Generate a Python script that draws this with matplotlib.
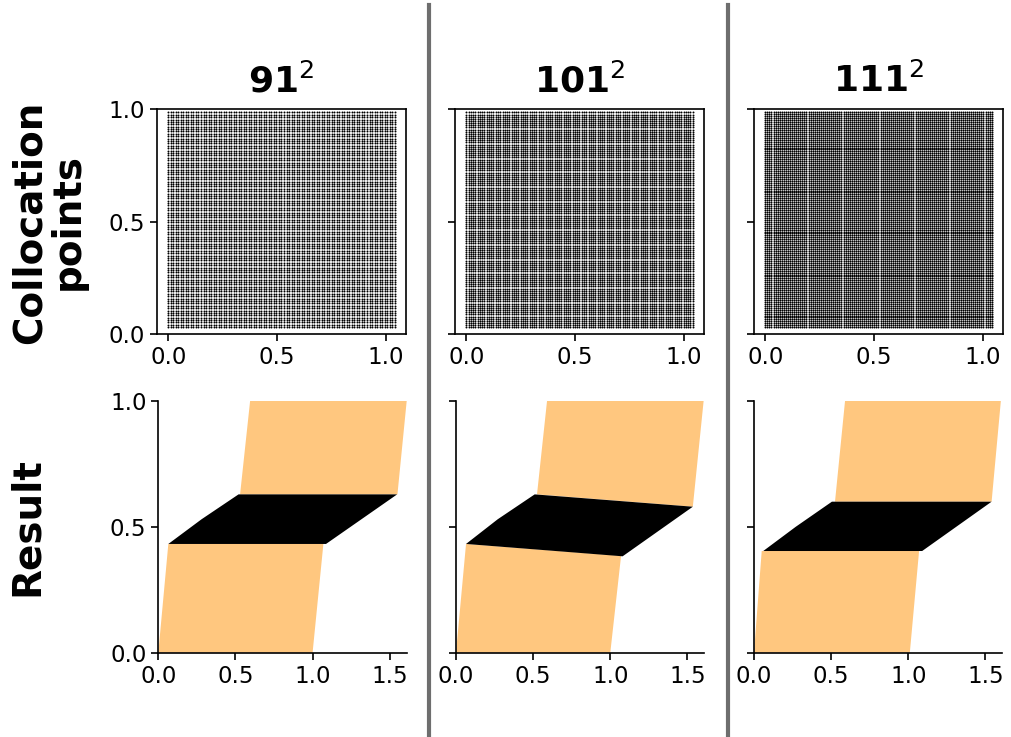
import numpy as np
import matplotlib
matplotlib.use("Agg")
import matplotlib.pyplot as plt
from matplotlib.lines import Line2D

# grid sizes of the collocation points
grid_n = [91, 101, 111]
titles = [r"$\mathbf{91}^{2}$", r"$\mathbf{101}^{2}$", r"$\mathbf{111}^{2}$"]

# extent of the collocation grid
pts_x = (0.0, 1.04)
pts_y = (0.03, 0.985)

# result regions, one polygon per region (x list, y list)
lower_x = [[0.0, 1.0, 1.07, 0.065], [0.0, 1.0, 1.07, 0.065], [0.0, 1.01, 1.07, 0.05]]
lower_y = [[0.0, 0.0, 0.432, 0.432], [0.0, 0.0, 0.385, 0.432], [0.0, 0.0, 0.404, 0.404]]
shock_x = [[0.065, 1.087, 1.548, 0.52, 0.28], [0.065, 1.08, 1.535, 0.51, 0.27],
           [0.06, 1.09, 1.54, 0.505, 0.27]]
shock_y = [[0.432, 0.432, 0.629, 0.629, 0.53], [0.432, 0.383, 0.58, 0.629, 0.53],
           [0.404, 0.404, 0.6, 0.6, 0.5]]
upper_x = [[0.53, 1.55, 1.61, 0.595], [0.525, 1.535, 1.605, 0.59], [0.525, 1.54, 1.6, 0.59]]
upper_y = [[0.629, 0.629, 1.0, 1.0], [0.629, 0.58, 1.0, 1.0], [0.6, 0.6, 1.0, 1.0]]

W, H = 1012, 737
fig = plt.figure(figsize=(W / 100, H / 100), dpi=100)
plt.rcParams["font.size"] = 16.5

orange = plt.cm.copper(1.0)
dark = plt.cm.copper(0.0)

top_left = [157, 455, 754]
bot_left = [158.3, 456, 754]

for i in range(3):
    # collocation points
    ax = fig.add_axes([top_left[i] / W, (H - 334) / H, 249 / W, 225 / H])
    n = grid_n[i]
    gx, gy = np.meshgrid(np.linspace(*pts_x, n), np.linspace(*pts_y, n))
    ax.scatter(gx.ravel(), gy.ravel(), s=2.0, c="k", marker="o", linewidths=0)
    ax.set_ylim(0, 1)
    ax.set_xticks([0, 0.5, 1.0])
    ax.set_yticks([0, 0.5, 1.0])
    if i > 0:
        ax.set_yticklabels([])
    ax.set_title(titles[i], fontsize=26, pad=12)
    for s in ax.spines.values():
        s.set_linewidth(1.2)
    ax.tick_params(length=5, width=1.2)

    # result
    ax = fig.add_axes([bot_left[i] / W, (H - 652.7) / H, 248.4 / W, 251.7 / H])
    ax.fill(lower_x[i], lower_y[i], color=orange, lw=0)
    ax.fill(upper_x[i], upper_y[i], color=orange, lw=0)
    ax.fill(shock_x[i], shock_y[i], color=dark, lw=0)
    ax.set_xlim(0, 1.61)
    ax.set_ylim(0, 1)
    ax.set_xticks([0, 0.5, 1.0, 1.5])
    ax.set_yticks([0, 0.5, 1.0])
    if i > 0:
        ax.set_yticklabels([])
    ax.spines["top"].set_visible(False)
    ax.spines["right"].set_visible(False)
    for s in ax.spines.values():
        s.set_linewidth(1.2)
    ax.tick_params(length=5, width=1.2)

fig.text(49 / W, 1 - 222 / H, "Collocation\npoints", rotation=90, ha="center",
         va="center", fontsize=28, fontweight="bold", linespacing=1.0)
fig.text(27 / W, 1 - 527 / H, "Result", rotation=90, ha="center", va="center",
         fontsize=28, fontweight="bold")

# separators between the columns
for xp in [429.5, 728]:
    fig.add_artist(Line2D([xp / W, xp / W], [0, 1 - 5 / H], color="#6e6e6e", lw=3))

fig.savefig("out.png", dpi=100)
